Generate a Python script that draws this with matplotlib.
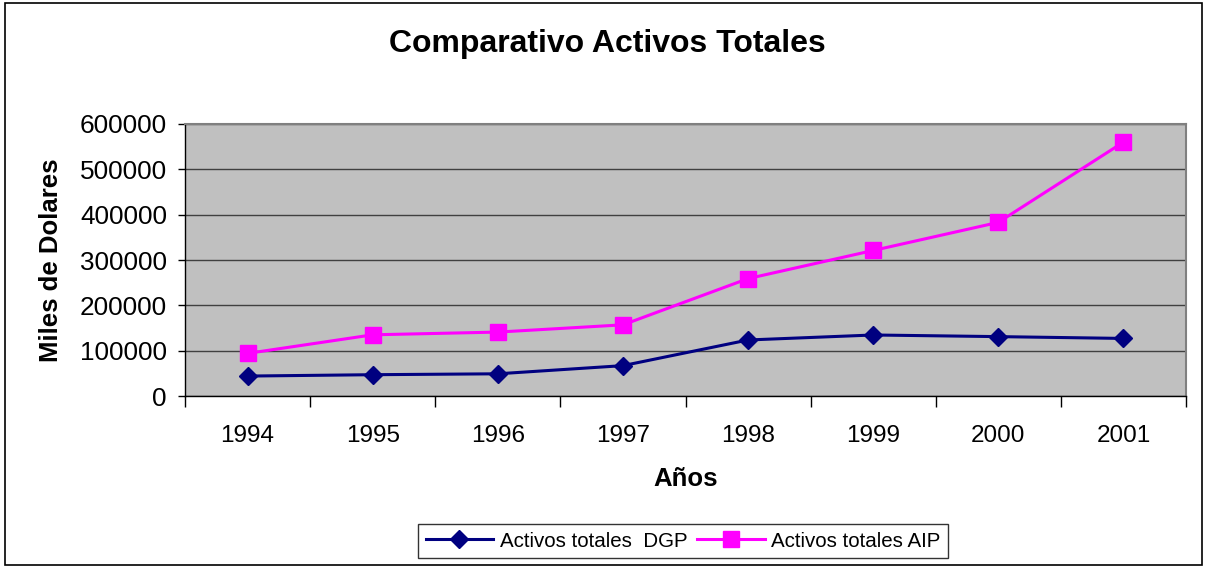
import matplotlib
matplotlib.use('Agg')
import matplotlib.pyplot as plt
from matplotlib.patches import Rectangle

plt.rcParams['font.family'] = ['Liberation Sans', 'DejaVu Sans']

# Data
years = ['1994', '1995', '1996', '1997', '1998', '1999', '2000', '2001']
dgp = [44000, 47000, 49000, 67000, 123600, 134600, 131000, 127000]
aip = [94000, 135000, 141000, 157000, 259000, 321000, 383000, 560000]
yTicks = [0, 100000, 200000, 300000, 400000, 500000, 600000]

fig = plt.figure(figsize=(12.07, 5.68), dpi=100)
fig.patches.append(Rectangle((0.004, 0.005), 0.992, 0.99, transform=fig.transFigure,
                             fill=False, edgecolor='black', linewidth=1.2))

ax = fig.add_axes([0.1533, 0.3028, 0.8293, 0.4789])
ax.set_facecolor('#C0C0C0')

x = range(len(years))
ax.plot(x, dgp, color='#000080', marker='D', markersize=9, linewidth=2.2, label='Activos totales  DGP')
ax.plot(x, aip, color='#FF00FF', marker='s', markersize=11.5, linewidth=2.2, label='Activos totales AIP')

ax.set_xlim(-0.5, len(years) - 0.5)
ax.set_ylim(0, 600000)
ax.set_yticks(yTicks)
ax.set_yticklabels([str(v) for v in yTicks])
ax.set_xticks(list(x))
ax.set_xticklabels(years)
ax.set_xticks([i - 0.5 for i in range(len(years) + 1)], minor=True)
ax.tick_params(axis='x', which='major', length=0, pad=21, labelsize=17.5)
ax.tick_params(axis='x', which='minor', length=8, width=1, direction='out')
ax.tick_params(axis='y', length=5, width=1, direction='out', labelsize=18.8, pad=8)

ax.yaxis.grid(True, color='#404040', linewidth=1)
ax.set_axisbelow(True)

for s in ['top', 'right']:
    ax.spines[s].set_color('#808080')
    ax.spines[s].set_linewidth(1.5)
for s in ['left', 'bottom']:
    ax.spines[s].set_color('black')
    ax.spines[s].set_linewidth(1)

ax.set_xlabel('Años', fontsize=18.5, fontweight='bold', labelpad=14)
ax.set_ylabel('Miles de Dolares', fontsize=18.5, fontweight='bold', labelpad=12)
fig.text(0.503, 0.922, 'Comparativo Activos Totales', ha='center', va='center',
         fontsize=23, fontweight='bold')

leg = fig.legend(loc='center', bbox_to_anchor=(0.566, 0.0475), ncol=2, fontsize=14.8,
                 frameon=True, fancybox=False, edgecolor='black', handlelength=3.3,
                 columnspacing=0.5, handletextpad=0.3, borderpad=0.35)
leg.get_frame().set_linewidth(1)

fig.savefig('out.png', dpi=100)
